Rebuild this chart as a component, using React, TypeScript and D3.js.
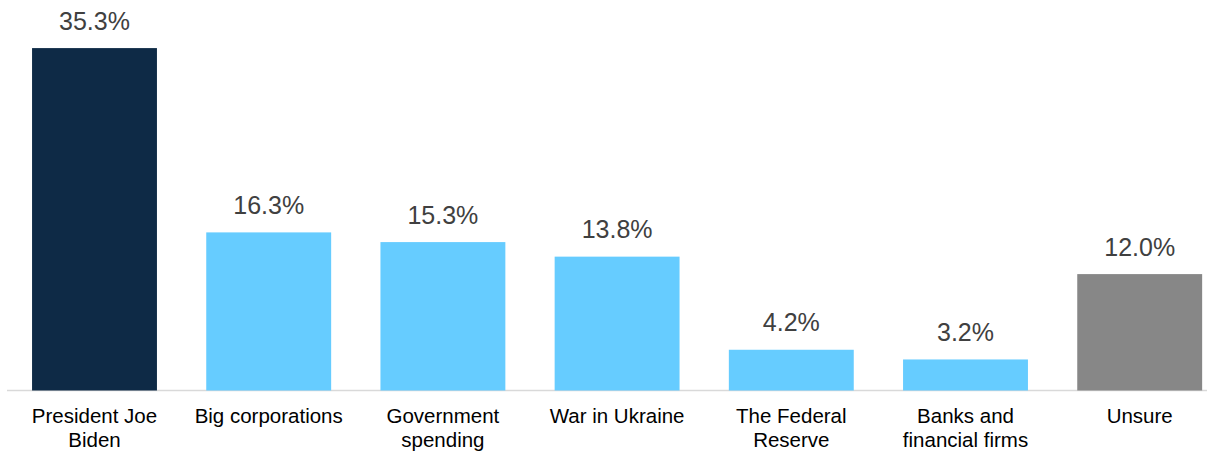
import React from 'react';
import * as d3 from 'd3';

const categories = [
  ['President Joe', 'Biden'],
  ['Big corporations'],
  ['Government', 'spending'],
  ['War in Ukraine'],
  ['The Federal', 'Reserve'],
  ['Banks and', 'financial firms'],
  ['Unsure'],
];
const values = [35.3, 16.3, 15.3, 13.8, 4.2, 3.2, 12.0];
const barColors = ['#0e2a46', '#66ccff', '#66ccff', '#66ccff', '#66ccff', '#66ccff', '#878787'];

const App = () => {
  const ref = React.useRef<SVGSVGElement>(null);

  React.useEffect(() => {
    const svg = d3.select(ref.current);
    svg.selectAll('*').remove();

    const width = 1207;
    const height = 454;
    const baseY = 390.5;

    const keys = categories.map((c, i) => String(i));
    const x = d3.scaleBand()
      .domain(keys)
      .range([7.4, 1226.8])
      .paddingInner(0.283)
      .paddingOuter(0.1415);

    const y = d3.scaleLinear()
      .domain([0, 40])
      .range([baseY, baseY - 388]);

    svg.append('line')
      .attr('x1', 7)
      .attr('x2', width)
      .attr('y1', baseY)
      .attr('y2', baseY)
      .attr('stroke', '#d9d9d9')
      .attr('stroke-width', 1.5);

    svg.selectAll('rect.bar')
      .data(values)
      .enter().append('rect')
      .attr('class', 'bar')
      .attr('x', (d, i) => x(String(i)))
      .attr('y', d => y(d))
      .attr('width', x.bandwidth())
      .attr('height', d => y(0) - y(d))
      .attr('fill', (d, i) => barColors[i]);

    svg.selectAll('text.val')
      .data(values)
      .enter().append('text')
      .attr('class', 'val')
      .attr('x', (d, i) => x(String(i)) + x.bandwidth() / 2)
      .attr('y', d => y(d) - 18.5)
      .attr('text-anchor', 'middle')
      .attr('font-family', 'Liberation Sans, Arial, sans-serif')
      .attr('font-size', 25)
      .attr('fill', '#404040')
      .text(d => d.toFixed(1) + '%');

    const labels = svg.selectAll('text.cat')
      .data(categories)
      .enter().append('text')
      .attr('class', 'cat')
      .attr('text-anchor', 'middle')
      .attr('font-family', 'Liberation Sans, Arial, sans-serif')
      .attr('font-size', 20.5)
      .attr('fill', '#000');

    labels.each(function (lines, i) {
      const t = d3.select(this);
      lines.forEach((line, j) => {
        t.append('tspan')
          .attr('x', x(String(i)) + x.bandwidth() / 2)
          .attr('y', 423 + j * 24)
          .text(line);
      });
    });
  }, []);

  return (
    <svg
      ref={ref}
      width="1207"
      height="454"
      style={{ position: 'absolute', left: 0, top: 0, background: '#fff' }}
    ></svg>
  );
};

export default App;
